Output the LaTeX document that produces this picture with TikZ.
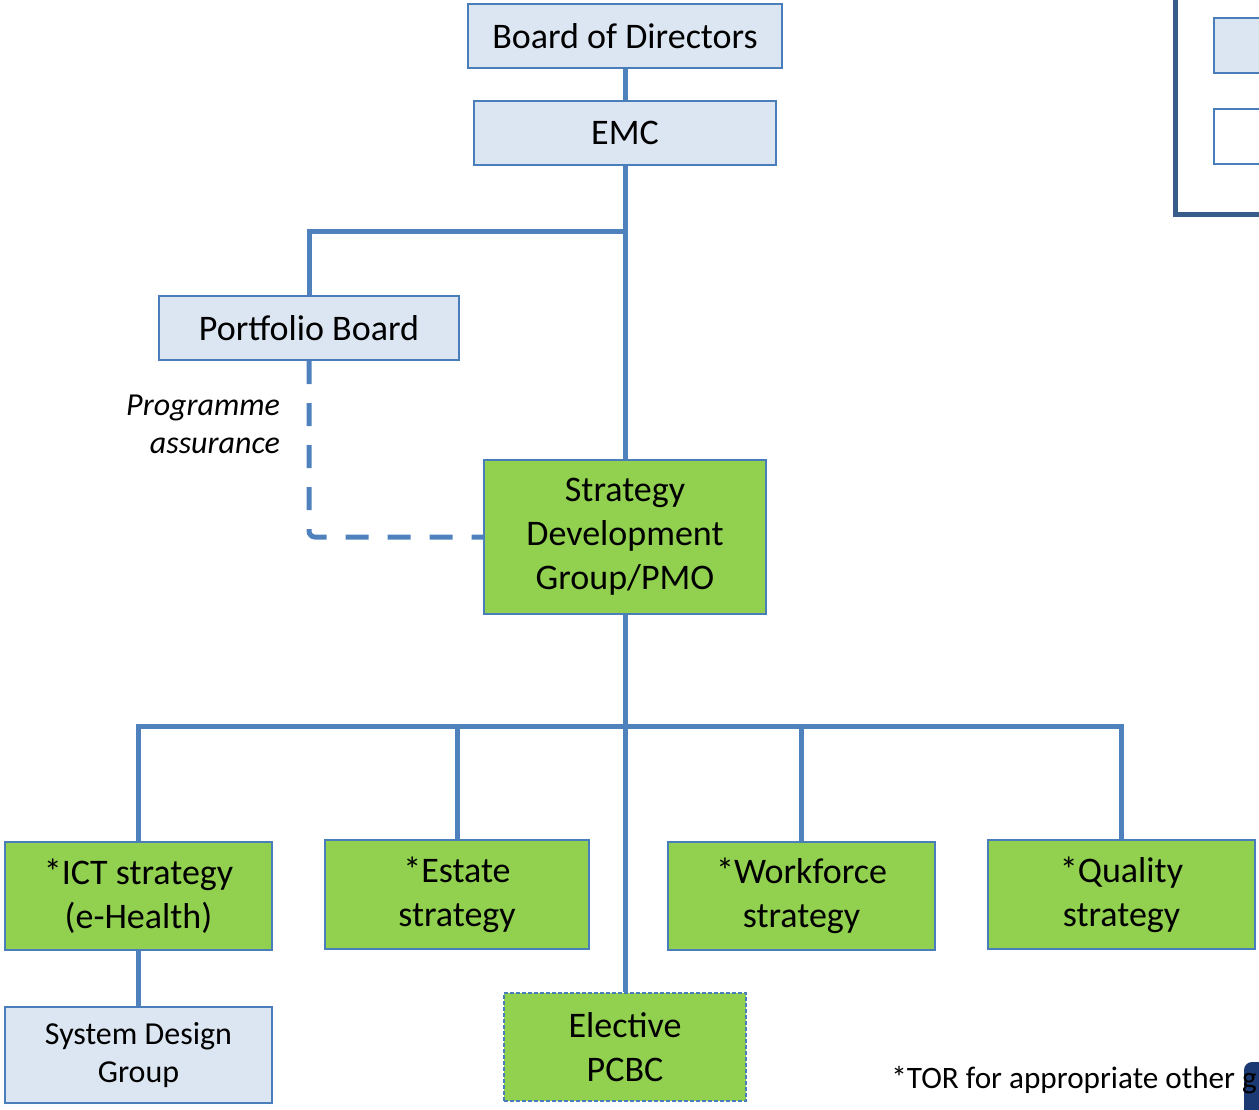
\documentclass[tikz,border=0pt]{standalone}
\usepackage{fontspec}
\setmainfont{Carlito}
\usepackage{xcolor}
\usetikzlibrary{calc}

\definecolor{boxfill}{HTML}{DCE6F2}
\definecolor{boxline}{HTML}{4A7EBB}
\definecolor{linkblue}{HTML}{4F81BD}
\definecolor{stratgreen}{HTML}{92D050}
\definecolor{framedark}{HTML}{385D8A}
\definecolor{navy}{HTML}{1B3A73}

\begin{document}
\begin{tikzpicture}[x=0.5pt,y=-0.5pt,
  govbox/.style={draw=boxline,line width=1pt,fill=boxfill,inner sep=0pt,align=center,
    font=\fontsize{18}{22}\selectfont},
  smallbox/.style={govbox,font=\fontsize{16}{19}\selectfont},
  stratbox/.style={draw=boxline,line width=0.8pt,fill=stratgreen,inner sep=0pt,align=center,
    font=\fontsize{18}{22}\selectfont},
  link/.style={draw=linkblue,line width=2.5pt},
  assure/.style={link,dash pattern=on 11.5pt off 9.5pt,rounded corners=3pt}]
  \useasboundingbox (0,0) rectangle (1259,1109);

  % Top of the chart
  \node[govbox,minimum width=157pt,minimum height=32pt] (board) at (625,36) {Board of Directors};
  \node[govbox,minimum width=151pt,minimum height=32pt] (emc) at (625,133) {EMC};
  \node[govbox,minimum width=150pt,minimum height=32pt] (portfolio) at (309,328) {Portfolio Board};
  \node[stratbox,minimum width=141pt,minimum height=77pt] (sdg) at (625,537)
    {Strategy\\Development\\Group/PMO};

  % Strategy row
  \node[stratbox,minimum width=133.5pt,minimum height=54pt] (ict) at (138.5,896) {*ICT strategy\\(e-Health)};
  \node[stratbox,minimum width=132pt,minimum height=54.5pt] (estate) at (457,894.5) {*Estate\\strategy};
  \node[stratbox,minimum width=133.5pt,minimum height=54pt] (workforce) at (801.5,896) {*Workforce\\strategy};
  \node[stratbox,minimum width=133.5pt,minimum height=54.5pt] (quality) at (1121.5,894.5) {*Quality\\strategy};

  % Bottom row
  \node[smallbox,minimum width=133.5pt,minimum height=48pt] (sysdesign) at (138.5,1055) {System Design\\Group};
  \node[stratbox,draw=boxline,dash pattern=on 2pt off 1pt,minimum width=121pt,minimum height=54pt]
    (elective) at (625,1047) {Elective\\PCBC};

  % Connectors
  \coordinate (split) at (625,231);
  \coordinate (bus) at (625,726);
  \draw[link] (board) -- (emc);
  \draw[link] (emc) -- (sdg.north);
  \draw[link] (split) -| (portfolio);
  \draw[assure] (portfolio) |- (sdg.west);
  \draw[link] (sdg.south) -- (elective);
  \draw[link] (bus) -| (ict);
  \draw[link] (bus) -| (estate);
  \draw[link] (bus) -| (workforce);
  \draw[link] (bus) -| (quality);
  \draw[link] (ict) -- (sysdesign);

  \node[anchor=east,align=right,font=\fontsize{16}{19}\selectfont\itshape] (assurelabel)
    at (287,424) {Programme\\assurance};

  % Key in the top right corner
  \draw[framedark,line width=2.5pt] (1175,-10) -- (1175,214) -- (1280,214);
  \draw[boxline,line width=1pt,fill=boxfill] (1214,18) rectangle (1280,73);
  \draw[boxline,line width=1pt,fill=white] (1214,109) rectangle (1280,164);

  % Footnote
  \fill[navy,rounded corners=4pt] (1244,1062) rectangle (1270,1120);
  \node[anchor=base west,inner sep=0pt,font=\fontsize{15.6}{19}\selectfont] (tornote)
    at (891,1088) {*TOR for appropriate other g};
\end{tikzpicture}
\end{document}
